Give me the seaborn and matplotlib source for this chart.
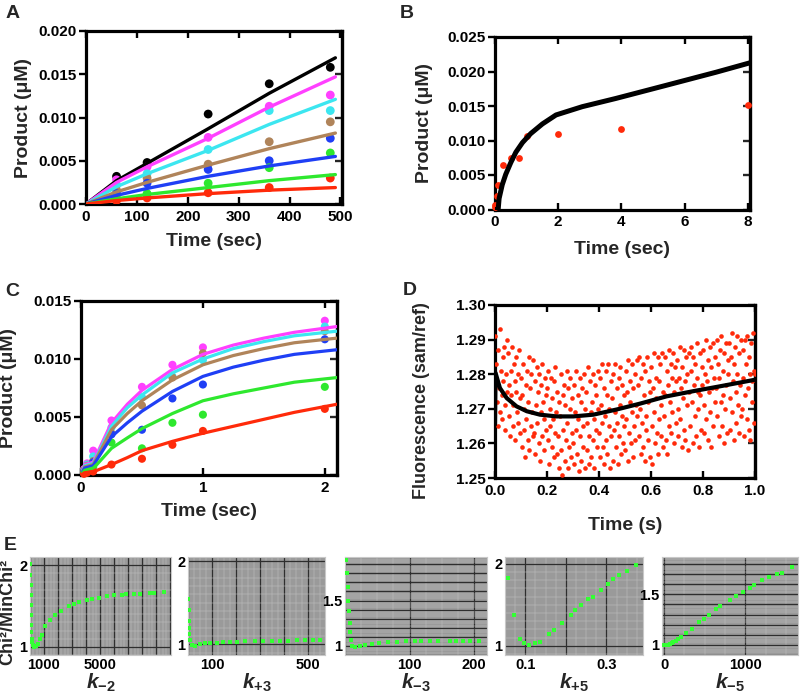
import numpy as np
import pandas as pd
import matplotlib
matplotlib.use("Agg")
import matplotlib.pyplot as plt
import seaborn as sns
from matplotlib.ticker import FixedLocator, FixedFormatter, MultipleLocator

# ---------------- Panel A data ----------------
a_series = ["black", "magenta", "cyan", "brown", "blue", "green", "red"]
a_time = [60, 120, 240, 360, 480]
a_black = [0.0032, 0.0048, 0.0104, 0.0139, 0.0158]
a_magenta = [0.0028, 0.0043, 0.0077, 0.0113, 0.0126]
a_cyan = [0.0022, 0.0035, 0.0063, 0.0108, 0.0108]
a_brown = [0.0016, 0.0030, 0.0046, 0.0072, 0.0095]
a_blue = [0.0012, 0.0024, 0.0040, 0.0050, 0.0076]
a_green = [0.0007, 0.0012, 0.0024, 0.0042, 0.0059]
a_red = [0.0004, 0.0007, 0.0013, 0.0019, 0.0030]
a_fit_time = [0, 60, 120, 240, 360, 490]
a_fit_black = [0, 0.0027, 0.0047, 0.0087, 0.0128, 0.0169]
a_fit_magenta = [0, 0.0025, 0.0043, 0.0076, 0.0112, 0.0147]
a_fit_cyan = [0, 0.0020, 0.0035, 0.0062, 0.0092, 0.0121]
a_fit_brown = [0, 0.0014, 0.0025, 0.0045, 0.0064, 0.0082]
a_fit_blue = [0, 0.0010, 0.0018, 0.0032, 0.0044, 0.0055]
a_fit_green = [0, 0.0006, 0.0011, 0.0019, 0.0027, 0.0034]
a_fit_red = [0, 0.0004, 0.0007, 0.0012, 0.0016, 0.0019]

# ---------------- Panel B data ----------------
b_time = [0.005, 0.01, 0.05, 0.1, 0.25, 0.5, 0.75, 1.0, 2.0, 4.0, 8.0]
b_prod = [0.0003, 0.0007, 0.0019, 0.0035, 0.0065, 0.0074, 0.0074, 0.0107, 0.0110, 0.0117, 0.0152]
b_fit_time = [0, 0.1, 0.13, 0.23, 0.34, 0.5, 0.66, 0.87, 1.13, 1.5, 1.93, 2.76, 3.83, 5.42, 7.0, 8.1]
b_fit_prod = [0, 0.0, 0.0016, 0.0036, 0.0051, 0.0068, 0.0083, 0.0097, 0.0110, 0.0124, 0.0137,
              0.0149, 0.0161, 0.0180, 0.0199, 0.0213]

# ---------------- Panel C data ----------------
c_series = ["magenta", "cyan", "brown", "blue", "green", "red"]
c_time = [0.025, 0.05, 0.1, 0.25, 0.5, 0.75, 1.0, 2.0]
c_magenta = [0.0005, 0.0010, 0.0021, 0.0047, 0.0076, 0.0095, 0.0110, 0.0133]
c_cyan = [0.0004, 0.0009, 0.0016, 0.0041, 0.0067, 0.0085, 0.0099, 0.0128]
c_brown = [0.0004, 0.0008, 0.0012, 0.0036, 0.0060, 0.0084, 0.0105, 0.0124]
c_blue = [0.0003, 0.0007, 0.0011, 0.0035, 0.0039, 0.0066, 0.0078, 0.0117]
c_green = [0.0002, 0.0005, 0.0007, 0.0028, 0.0023, 0.0045, 0.0052, 0.0076]
c_red = [0.0001, 0.0002, 0.0003, 0.0009, 0.0014, 0.0026, 0.0038, 0.0057]
c_fit_time = [0, 0.03, 0.1, 0.13, 0.25, 0.38, 0.5, 0.75, 1.0, 1.25, 1.5, 1.75, 2.1]
c_fit_magenta = [0, 0.0009, 0.0011, 0.0018, 0.0045, 0.0061, 0.0073, 0.0091, 0.0104, 0.0112, 0.0118, 0.0123, 0.0128]
c_fit_cyan = [0, 0.0008, 0.0010, 0.0016, 0.0042, 0.0058, 0.0069, 0.0088, 0.0100, 0.0109, 0.0115, 0.0120, 0.0124]
c_fit_brown = [0, 0.0007, 0.0009, 0.0015, 0.0039, 0.0053, 0.0064, 0.0082, 0.0095, 0.0103, 0.0109, 0.0114, 0.0118]
c_fit_blue = [0, 0.0006, 0.0008, 0.0013, 0.0033, 0.0045, 0.0055, 0.0072, 0.0085, 0.0093, 0.0099, 0.0104, 0.0108]
c_fit_green = [0, 0.0004, 0.0006, 0.0009, 0.0023, 0.0032, 0.0040, 0.0053, 0.0064, 0.0070, 0.0075, 0.0080, 0.0084]
c_fit_red = [0, 0.0002, 0.0003, 0.0004, 0.0009, 0.0015, 0.0021, 0.0029, 0.0036, 0.0042, 0.0048, 0.0054, 0.0061]

# ---------------- Panel D data ----------------
# fluorescence read as thousandths above 1.25, sampled every 2.5 ms
d_step = 0.0025
d_fluor_milli = [
    41, 33, 29, 22, 15, 37, 26, 19, 43, 31, 24, 17, 35, 28, 38, 21, 14, 30, 40, 25,
    36, 18, 27, 12, 31, 24, 38, 15, 21, 33, 28, 11, 25, 35, 19, 30, 16, 37, 23, 13,
    29, 9, 24, 33, 14, 20, 6, 27, 17, 31, 11, 22, 35, 8, 26, 15, 30, 19, 12, 34,
    13, 28, 7, 21, 32, 16, 25, 10, 30, 5, 19, 27, 12, 33, 22, 8, 17, 29, 14, 24,
    26, 11, 31, 4, 20, 15, 29, 9, 23, 17, 6, 28, 13, 32, 19, 7, 25, 12, 22, 3,
    18, 30, 8, 1, 24, 14, 27, 5, 21, 11, 31, 16, 3, 26, 9, 20, 29, 6, 13, 23,
    10, 27, 4, 19, 31, 14, 7, 24, 17, 2, 29, 12, 22, 5, 26, 15, 9, 30, 20, 3,
    25, 8, 16, 32, 12, 4, 28, 19, 6, 22, 30, 11, 17, 3, 27, 14, 24, 9, 31, 20,
    13, 29, 6, 21, 33, 16, 9, 26, 4, 18, 31, 11, 24, 7, 33, 15, 20, 3, 28, 12,
    23, 5, 30, 14, 19, 33, 9, 26, 16, 4, 29, 12, 21, 32, 7, 18, 27, 10, 24, 15,
    8, 31, 17, 25, 5, 34, 13, 22, 28, 10, 19, 33, 6, 26, 15, 30, 11, 21, 34, 18,
    27, 12, 35, 20, 7, 29, 16, 33, 9, 24, 5, 31, 18, 14, 35, 22, 11, 28, 6, 25,
    32, 15, 4, 26, 36, 19, 10, 29, 23, 13, 35, 7, 28, 17, 33, 21, 12, 36, 25, 9,
    18, 35, 24, 11, 31, 7, 27, 37, 15, 22, 33, 13, 29, 19, 36, 10, 25, 32, 16, 28,
    34, 20, 12, 29, 38, 17, 26, 9, 32, 23, 14, 37, 28, 11, 35, 21, 30, 8, 25, 36,
    15, 31, 38, 22, 10, 35, 27, 18, 33, 12, 29, 39, 20, 25, 9, 36, 24, 14, 32, 27,
    37, 21, 13, 30, 40, 17, 28, 34, 11, 25, 38, 19, 9, 32, 26, 39, 15, 29, 22, 35,
    26, 40, 18, 33, 12, 29, 37, 22, 41, 15, 31, 24, 10, 36, 20, 39, 27, 13, 34, 30,
    39, 23, 14, 35, 42, 19, 28, 33, 11, 38, 25, 16, 41, 30, 21, 36, 13, 27, 40, 18,
    20, 37, 29, 12, 40, 24, 33, 17, 41, 26, 14, 35, 30, 11, 39, 22, 28, 42, 16, 31, 30]
d_fit_time = [0, 0.002, 0.019, 0.045, 0.083, 0.122, 0.173, 0.237, 0.301, 0.378, 0.468, 0.558, 0.66, 0.763, 0.865, 1.0]
d_fit_fluor = [1.2655, 1.2804, 1.2760, 1.2731, 1.2707, 1.2693, 1.2683, 1.2678, 1.2678, 1.2683, 1.2698,
               1.2715, 1.2736, 1.2751, 1.2765, 1.2784]

# ---------------- Panel E data ----------------
e1_x = [20, 30, 40, 50, 60, 70, 80, 100, 130, 160, 230, 300, 400, 540, 710, 870, 1110, 1420, 1820, 2240,
        2760, 3140, 3500, 4090, 4420, 4960, 5550, 6030, 6620, 6860, 7450, 7870, 8580, 8870, 9620]
e1_y = [2.02, 1.88, 1.76, 1.63, 1.51, 1.39, 1.27, 1.18, 1.10, 1.06, 1.02, 1.0, 1.01, 1.04, 1.09, 1.14, 1.25,
        1.33, 1.39, 1.44, 1.50, 1.53, 1.55, 1.57, 1.58, 1.60, 1.62, 1.63, 1.64, 1.645, 1.65, 1.65, 1.66,
        1.665, 1.67]
e2_x = [2, 3, 4, 5, 6, 8, 15, 29, 50, 71, 92, 119, 147, 175, 203, 237, 279, 314, 349, 383, 418, 453, 488, 522, 550]
e2_y = [1.54, 1.41, 1.28, 1.20, 1.12, 1.05, 0.99, 0.98, 1.0, 1.01, 1.015, 1.02, 1.025, 1.03, 1.03, 1.035,
        1.035, 1.035, 1.04, 1.04, 1.04, 1.045, 1.045, 1.045, 1.045]
e3_x = [2, 3, 4, 5, 6, 7, 8, 9, 11, 16, 24, 31, 42, 52, 67, 80, 95, 108, 118, 131, 144, 162, 172, 183, 193, 208]
e3_y = [1.95, 1.80, 1.65, 1.50, 1.38, 1.25, 1.15, 1.06, 1.0, 0.99, 1.0, 1.01, 1.02, 1.03, 1.04, 1.045, 1.05,
        1.055, 1.055, 1.055, 1.057, 1.057, 1.057, 1.057, 1.057, 1.057]
e4_x = [0.057, 0.071, 0.086, 0.098, 0.108, 0.124, 0.137, 0.159, 0.171, 0.191, 0.212, 0.222, 0.238, 0.254,
        0.267, 0.287, 0.303, 0.317, 0.332, 0.350, 0.372]
e4_y = [1.82, 1.38, 1.09, 1.03, 1.01, 1.03, 1.05, 1.14, 1.19, 1.28, 1.38, 1.44, 1.50, 1.57, 1.60, 1.68,
        1.75, 1.81, 1.86, 1.91, 1.98]
e5_x = [0, 12, 33, 53, 73, 94, 114, 143, 176, 208, 265, 339, 433, 494, 551, 645, 694, 808, 882, 971, 1053,
        1106, 1204, 1298, 1392, 1449, 1571]
e5_y = [1.0, 1.0, 1.0, 1.003, 1.01, 1.016, 1.026, 1.039, 1.058, 1.081, 1.113, 1.161, 1.226, 1.258, 1.294,
        1.355, 1.387, 1.445, 1.484, 1.526, 1.568, 1.594, 1.639, 1.671, 1.703, 1.716, 1.774]
e_names = [r"$k_{\mathrm{-2}}$", r"$k_{\mathrm{+3}}$", r"$k_{\mathrm{-3}}$", r"$k_{\mathrm{+5}}$", r"$k_{\mathrm{-5}}$"]
e_xticklabels = [["1000", "5000"], ["100", "500"], ["100", "200"], ["0.1", "0.3"], ["0", "1000"]]
e_yticklabels = [["1", "2"], ["1", "2"], ["1", "1.5"], ["1", "2"], ["1", "1.5"]]

# ---------------- style ----------------
sns.set_theme(style="ticks")
plt.rcParams.update({
    "font.family": ["Liberation Sans", "DejaVu Sans"],
    "font.weight": "bold",
    "axes.labelweight": "bold",
    "mathtext.fontset": "custom",
    "mathtext.rm": "Liberation Sans:bold",
    "mathtext.it": "Liberation Sans:italic:bold",
    "mathtext.bf": "Liberation Sans:bold",
})

colors = {"black": "#000000", "magenta": "#ff40ff", "cyan": "#3ce6f0", "brown": "#b0845a",
          "blue": "#1f3ff5", "green": "#2ee82e", "red": "#ff2a0a"}

W, H = 800, 696
fig = plt.figure(figsize=(W / 100, H / 100), dpi=100)


def add_ax(l, t, r, b):
    return fig.add_axes([l / W, 1 - b / H, (r - l) / W, (b - t) / H])


def style_main(ax, xlim, ylim, xticks, yticks, xfmt, yfmt, xlabel, ylabel, ylab_x, xlab_y,
               ylab_size=14, ylab_ypos=0.5):
    ax.set_xlim(xlim)
    ax.set_ylim(ylim)
    ax.set_xticks(xticks)
    ax.set_yticks(yticks)
    ax.set_xticklabels([xfmt.format(v) for v in xticks])
    ax.set_yticklabels([yfmt.format(v) for v in yticks])
    for s in ax.spines.values():
        s.set_visible(True)
        s.set_linewidth(2.3)
        s.set_color("black")
    ax.tick_params(axis="x", direction="in", top=True, bottom=True, length=5, width=1.7,
                   labelsize=11, pad=4, colors="black")
    ax.tick_params(axis="y", direction="out", left=True, right=False, length=5, width=1.7,
                   labelsize=11, pad=2, colors="black")
    sec = ax.secondary_yaxis("right")
    sec.set_yticks(yticks)
    sec.tick_params(direction="in", length=5, width=1.7, labelright=False)
    sec.spines["right"].set_linewidth(2.3)
    ax.set_xlabel(xlabel, fontsize=14, fontweight="bold")
    ax.set_ylabel(ylabel, fontsize=ylab_size, fontweight="bold")
    ax.xaxis.set_label_coords(0.5, xlab_y)
    ax.yaxis.set_label_coords(ylab_x, ylab_ypos)
    ax.grid(False)


def long_df(xs, series_names, arrays):
    rows = []
    for name, arr in zip(series_names, arrays):
        for x, y in zip(xs, arr):
            rows.append((x, y, name))
    return pd.DataFrame(rows, columns=["x", "y", "series"])


mu = "\u03bc"

# ---------------- Panel A ----------------
axA = add_ax(86, 31, 342, 204)
dfA = long_df(a_time, a_series, [a_black, a_magenta, a_cyan, a_brown, a_blue, a_green, a_red])
dfAf = long_df(a_fit_time, a_series, [a_fit_black, a_fit_magenta, a_fit_cyan, a_fit_brown,
                                      a_fit_blue, a_fit_green, a_fit_red])
sns.scatterplot(data=dfA, x="x", y="y", hue="series", palette=colors, s=40, linewidth=0,
                legend=False, ax=axA, zorder=3)
sns.lineplot(data=dfAf, x="x", y="y", hue="series", palette=colors, linewidth=2.4, sort=False,
             estimator=None, legend=False, ax=axA, zorder=4)
style_main(axA, (0, 503), (0, 0.020), [0, 100, 200, 300, 400, 500], [0, 0.005, 0.010, 0.015, 0.020],
           "{:d}", "{:.3f}", "Time (sec)", f"Product ({mu}M)", -0.21, -0.17)

# ---------------- Panel B ----------------
axB = add_ax(495, 37, 750, 209.5)
sns.scatterplot(x=b_time, y=b_prod, color="#ff2a0a", s=24, linewidth=0, ax=axB, zorder=3, clip_on=False)
sns.lineplot(x=b_fit_time, y=b_fit_prod, color="black", linewidth=3.6, sort=False, estimator=None,
             ax=axB, zorder=4)
style_main(axB, (0, 8.07), (0, 0.025), [0, 2, 4, 6, 8], [0, 0.005, 0.010, 0.015, 0.020, 0.025],
           "{:d}", "{:.3f}", "Time (sec)", f"Product ({mu}M)", -0.245, -0.18)

# ---------------- Panel C ----------------
axC = add_ax(81, 301, 337, 475)
dfC = long_df(c_time, c_series, [c_magenta, c_cyan, c_brown, c_blue, c_green, c_red])
dfCf = long_df(c_fit_time, c_series, [c_fit_magenta, c_fit_cyan, c_fit_brown, c_fit_blue,
                                      c_fit_green, c_fit_red])
sns.scatterplot(data=dfC, x="x", y="y", hue="series", palette=colors, s=34, linewidth=0,
                legend=False, ax=axC, zorder=3, clip_on=False)
sns.lineplot(data=dfCf, x="x", y="y", hue="series", palette=colors, linewidth=2.3, sort=False,
             estimator=None, legend=False, ax=axC, zorder=4)
style_main(axC, (0, 2.1), (0, 0.015), [0, 1, 2], [0, 0.005, 0.010, 0.015],
           "{:d}", "{:.3f}", "Time (sec)", f"Product ({mu}M)", -0.25, -0.16)

# ---------------- Panel D ----------------
axD = add_ax(495, 305, 755, 478)
d_time = np.arange(len(d_fluor_milli)) * d_step
d_fluor = [1.25 + v / 1000 for v in d_fluor_milli]
sns.scatterplot(x=d_time, y=d_fluor, color="#ff2a0a", s=11, linewidth=0, ax=axD, zorder=3)
sns.lineplot(x=d_fit_time, y=d_fit_fluor, color="black", linewidth=3.0, sort=False, estimator=None,
             ax=axD, zorder=4)
style_main(axD, (0, 1.0), (1.25, 1.30), [0, 0.2, 0.4, 0.6, 0.8, 1.0], [1.25, 1.26, 1.27, 1.28, 1.29, 1.30],
           "{:.1f}", "{:.2f}", "Time (s)", "Fluorescence (sam/ref)", -0.25, -0.225,
           ylab_size=13, ylab_ypos=0.45)

# ---------------- Panel E ----------------
e_boxes = [(30, 171), (188, 325), (345, 487), (505, 643), (662, 798)]
e_data = [(e1_x, e1_y), (e2_x, e2_y), (e3_x, e3_y), (e4_x, e4_y), (e5_x, e5_y)]
e_xlim = [(0, 10100), (0, 570), (0, 220), (0.05, 0.39), (-25, 1650)]
e_ylim = [(0.9, 2.1), (0.87, 2.05), (0.9, 1.98), (0.89, 2.08), (0.9, 1.87)]
e_xmaj = [1000, 100, 100, 0.1, 1000]
e_xmin = [250, 25, 25, 0.025, 250]
e_ymaj = [1, 1, 0.1, 1, 0.1]
e_ymin = [0.1, 0.1, 0.025, 0.1, 0.025]

for i, (l, r) in enumerate(e_boxes):
    ax = add_ax(l, 557, r, 655)
    ax.set_facecolor("#9a9a9a")
    ex, ey = e_data[i]
    sns.scatterplot(x=ex, y=ey, color="#33ff33", s=9, linewidth=0, marker="s", ax=ax, zorder=3)
    ax.set_xlim(e_xlim[i])
    ax.set_ylim(e_ylim[i])
    x0 = np.ceil(e_xlim[i][0] / e_xmaj[i]) * e_xmaj[i]
    xt = np.arange(x0, e_xlim[i][1] + 1e-9, e_xmaj[i])
    y0 = np.ceil(e_ylim[i][0] / e_ymaj[i] - 1e-9) * e_ymaj[i]
    yt = np.arange(y0, e_ylim[i][1] + 1e-9, e_ymaj[i])
    xl = [next((s for s in e_xticklabels[i] if abs(float(s) - v) < 1e-6 * max(1, abs(v))), "") for v in xt]
    yl = [next((s for s in e_yticklabels[i] if abs(float(s) - v) < 1e-6), "") for v in yt]
    ax.xaxis.set_major_locator(FixedLocator(xt))
    ax.xaxis.set_major_formatter(FixedFormatter(xl))
    ax.yaxis.set_major_locator(FixedLocator(yt))
    ax.yaxis.set_major_formatter(FixedFormatter(yl))
    ax.xaxis.set_minor_locator(MultipleLocator(e_xmin[i]))
    ax.yaxis.set_minor_locator(MultipleLocator(e_ymin[i]))
    ax.grid(which="minor", color="#c4c4c4", linewidth=0.35)
    ax.grid(which="major", color="#2e2e2e", linewidth=0.9)
    ax.set_axisbelow(True)
    ax.tick_params(which="both", length=0, labelsize=10.5, pad=2, colors="black")
    for s in ax.spines.values():
        s.set_visible(True)
        s.set_color("#c8c8c8")
        s.set_linewidth(0.8)
    ax.set_xlabel(e_names[i], fontsize=15, labelpad=0)
    ax.set_ylabel("")

fig.text(8 / W, 1 - 612 / H, "Chi\u00b2/MinChi\u00b2", rotation=90, ha="center", va="center",
         fontsize=13, fontweight="bold")

for letter, (px, py) in zip("ABCDE", [(13, 13), (407, 14), (12, 292), (410, 290), (10, 546)]):
    fig.text(px / W, 1 - py / H, letter, fontsize=14, fontweight="bold", ha="center", va="center")

fig.savefig("out.png", dpi=100)
